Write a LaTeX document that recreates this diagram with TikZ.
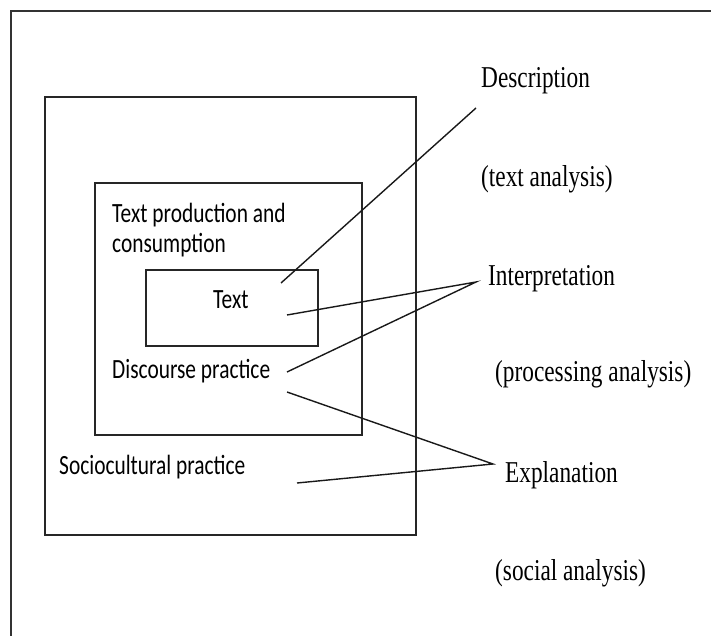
\documentclass[tikz,border=0pt]{standalone}
\usepackage{fontspec}
\usepackage{graphicx}
\setmainfont{Liberation Serif}
\newfontfamily\boxfont{Carlito}
\newcommand{\Tall}[1]{\scalebox{1}[1.3]{#1}}

\begin{document}
\begin{tikzpicture}[x=1pt,y=-1pt]

\tikzset{
  BoxStyle/.style = { rectangle, draw = black!85, line width = 1.4pt,
                      inner sep = 0pt },
  InnerLabel/.style = { anchor = base west, inner sep = 0pt,
                        font = \boxfont\fontsize{21.4}{30}\selectfont },
  OuterLabel/.style = { anchor = base west, inner sep = 0pt,
                        font = \fontsize{23.3}{28}\selectfont },
  LinkStyle/.style = { draw = black!90, line width = 1.4pt } }

  \useasboundingbox (0,0) rectangle (711,636);

  % page frame
  \draw[line width = 1.3pt, black!80] (11,636) -- (11,11) -- (711,11);

  \node[BoxStyle, minimum width = 371pt, minimum height = 438pt] (social) at (230.5,316) {};
  \node[BoxStyle, minimum width = 267pt, minimum height = 252pt] (discourse) at (228.5,309) {};
  \node[BoxStyle, minimum width = 172pt, minimum height = 76pt] (text) at (232,308) {};

  \node[InnerLabel, anchor = north west, align = left] (prod) at (112,202.5) {\Tall{Text production and}\\\Tall{consumption}};
  \node[InnerLabel] (textlab) at (213,308) {\Tall{Text}};
  \node[InnerLabel] (disclab) at (112,378) {\Tall{Discourse practice}};
  \node[InnerLabel] (socilab) at (59,474) {\Tall{Sociocultural practice}};

  \node[OuterLabel] (desc) at (481,88) {\Tall{Description}};
  \node[OuterLabel] (textan) at (481,187) {\Tall{(text analysis)}};
  \node[OuterLabel] (interp) at (488,285) {\Tall{Interpretation}};
  \node[OuterLabel] (procan) at (495,381) {\Tall{(processing analysis)}};
  \node[OuterLabel] (expl) at (505,482) {\Tall{Explanation}};
  \node[OuterLabel] (socan) at (495,580) {\Tall{(social analysis)}};

  \coordinate (descTip) at (476,108);
  \coordinate (interpTip) at (476,282);
  \coordinate (explTip) at (493,464);

  \coordinate (textEnd) at (281,283);
  \coordinate (textEndB) at (287,315);
  \coordinate (discEnd) at (287,372);
  \coordinate (discEndB) at (287,392);
  \coordinate (sociEnd) at (297,483);

  \path[LinkStyle] (textEnd) -- (descTip);
  \path[LinkStyle] (textEndB) -- (interpTip) -- (discEnd);
  \path[LinkStyle] (discEndB) -- (explTip) -- (sociEnd);

\end{tikzpicture}
\end{document}
